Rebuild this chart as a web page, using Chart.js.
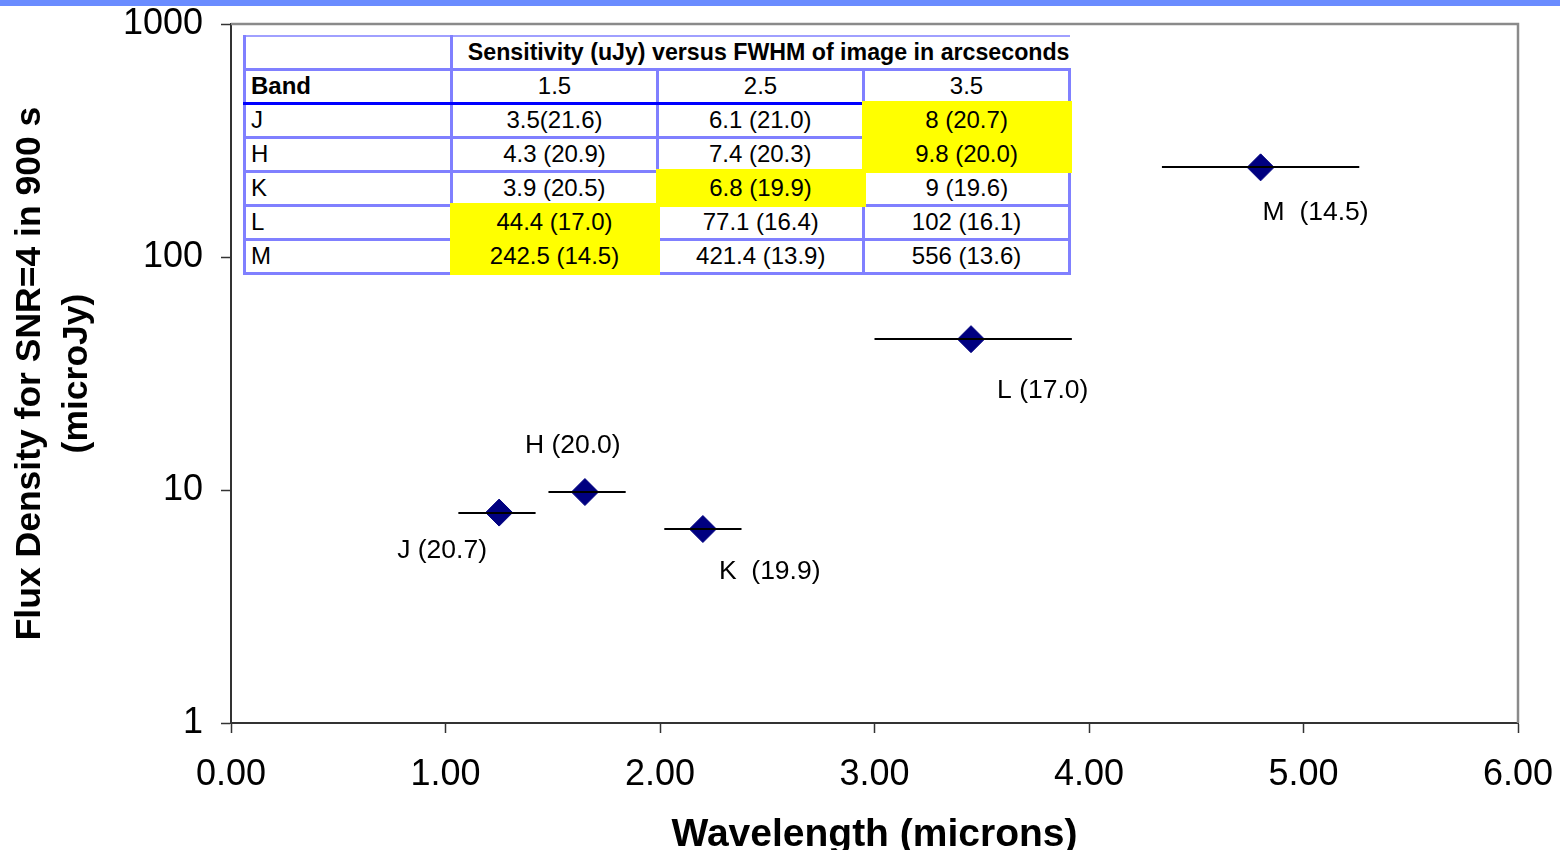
<!DOCTYPE html>
<html>
<head>
<meta charset="utf-8">
<title>Sensitivity versus wavelength</title>
<script src="https://cdn.jsdelivr.net/npm/chart.js@4.4.1/dist/chart.umd.min.js"></script>
<style>
  html, body { margin: 0; padding: 0; background: #fff; }
  #wrap { position: relative; width: 1560px; height: 850px; overflow: hidden; background: #fff; }
  #topbar { position: absolute; left: 0; top: 0; width: 1560px; height: 6px; background: #6a8cff; }
  #chart { position: absolute; left: 0; top: 0; }
  #sens {
    position: absolute; left: 243px; top: 35px; width: 825px;
    border-collapse: collapse; table-layout: fixed; background: #fff;
    font-family: "Liberation Sans", Arial, sans-serif; font-size: 24px; color: #000;
  }
  #sens td {
    border: 3px solid #8080ff; padding: 0; text-align: center;
    white-space: nowrap; overflow: visible; line-height: 26px;
  }
  #sens tr { height: 34px; }
  #sens tr.first { height: 33px; }
  #sens tr.first td { border-top: 2px solid #a0a0ff; }
  #sens td.band { text-align: left; padding-left: 5px; }
  #sens td.bold { font-weight: bold; }
  #sens td.title { border-right: none; font-size: 23.2px; text-align: right; }
  #sens tr.head td { border-bottom: 3px solid #0000ff; }
  #sens td.pick { background: #ffff00; border: 4px solid #ffff00; }
</style>
</head>
<body>
<div id="wrap">
  <div id="topbar"></div>
  <canvas id="chart" width="1560" height="850"></canvas>
  <table id="sens"></table>
</div>
<script>
// Photometric bands, their central wavelengths (microns) and band edges
const bands = ['J', 'H', 'K', 'L', 'M'];
const wavelength = [1.25, 1.65, 2.20, 3.45, 4.80];
const bandLow  = [1.06, 1.48, 2.02, 3.00, 4.34];
const bandHigh = [1.42, 1.84, 2.38, 3.92, 5.26];

// Image FWHM columns (arcseconds)
const fwhm = ['1.5', '2.5', '3.5'];

// Sensitivity (uJy) per band for each FWHM, and the matching magnitude
const fluxJ = [3.5, 6.1, 8];       const magJ = [21.6, 21.0, 20.7];
const fluxH = [4.3, 7.4, 9.8];     const magH = [20.9, 20.3, 20.0];
const fluxK = [3.9, 6.8, 9];       const magK = [20.5, 19.9, 19.6];
const fluxL = [44.4, 77.1, 102];   const magL = [17.0, 16.4, 16.1];
const fluxM = [242.5, 421.4, 556]; const magM = [14.5, 13.9, 13.6];

// FWHM column adopted for each band (highlighted cells, plotted points)
const adopted = [2, 2, 1, 0, 0];

// Axis tick values
const xTicks = [0, 1, 2, 3, 4, 5, 6];
const yTicks = [1, 10, 100, 1000];

const fluxTable = [fluxJ, fluxH, fluxK, fluxL, fluxM];
const magTable = [magJ, magH, magK, magL, magM];
const plotFlux = bands.map((b, i) => fluxTable[i][adopted[i]]);
const plotMag = bands.map((b, i) => magTable[i][adopted[i]]);

// ---- sensitivity table ----
(function buildTable() {
  const t = document.getElementById('sens');
  let html = '<colgroup><col style="width:207px"><col style="width:206px"><col style="width:206px"><col style="width:206px"></colgroup>';
  html += '<tr class="first"><td></td><td class="bold title" colspan="3">Sensitivity (uJy) versus FWHM of image in arcseconds</td></tr>';
  html += '<tr class="head"><td class="band bold">Band</td>' + fwhm.map(f => '<td>' + f + '</td>').join('') + '</tr>';
  bands.forEach((b, i) => {
    html += '<tr><td class="band">' + b + '</td>';
    fluxTable[i].forEach((f, j) => {
      const sep = (i === 0 && j === 0) ? '' : ' ';
      const cls = adopted[i] === j ? ' class="pick"' : '';
      html += '<td' + cls + '>' + f + sep + '(' + magTable[i][j].toFixed(1) + ')</td>';
    });
    html += '</tr>';
  });
  t.innerHTML = html;
})();

// ---- chart ----
const FONT = '"Liberation Sans", Arial, sans-serif';

// Gray frame on the top and right of the plot area
const framePlugin = {
  id: 'frame',
  beforeDatasetsDraw(chart) {
    const { ctx, chartArea: a } = chart;
    ctx.save();
    ctx.strokeStyle = '#8a8a8a';
    ctx.lineWidth = 2.5;
    ctx.beginPath();
    ctx.moveTo(a.left, a.top);
    ctx.lineTo(a.right, a.top);
    ctx.lineTo(a.right, a.bottom);
    ctx.stroke();
    ctx.restore();
  }
};

// Horizontal bars showing each band's wavelength coverage
const bandBarPlugin = {
  id: 'bandBars',
  afterDatasetsDraw(chart) {
    const { ctx, scales: { x, y } } = chart;
    ctx.save();
    ctx.strokeStyle = '#000';
    ctx.lineWidth = 2;
    bands.forEach((b, i) => {
      const py = Math.round(y.getPixelForValue(plotFlux[i]));
      ctx.beginPath();
      ctx.moveTo(x.getPixelForValue(bandLow[i]), py);
      ctx.lineTo(x.getPixelForValue(bandHigh[i]), py);
      ctx.stroke();
    });
    ctx.restore();
  }
};

// Band name and magnitude next to each point
const labelOffsets = [[-102, 38], [-60, -46], [16, 43], [26, 52], [2, 45]];
const labelGaps = [' ', ' ', '  ', ' ', '  '];
const bandLabelPlugin = {
  id: 'bandLabels',
  afterDatasetsDraw(chart) {
    const { ctx } = chart;
    const meta = chart.getDatasetMeta(0);
    ctx.save();
    ctx.font = '26.5px ' + FONT;
    ctx.fillStyle = '#000';
    ctx.textAlign = 'left';
    ctx.textBaseline = 'middle';
    meta.data.forEach((pt, i) => {
      const txt = bands[i] + labelGaps[i] + '(' + plotMag[i].toFixed(1) + ')';
      ctx.fillText(txt, pt.x + labelOffsets[i][0], pt.y + labelOffsets[i][1]);
    });
    ctx.restore();
  }
};

new Chart(document.getElementById('chart'), {
  type: 'scatter',
  data: {
    datasets: [{
      data: bands.map((b, i) => ({ x: wavelength[i], y: plotFlux[i] })),
      pointStyle: 'rectRot',
      pointRadius: 13.5,
      pointHoverRadius: 13.5,
      backgroundColor: '#000080',
      borderColor: '#000080',
      borderWidth: 1
    }]
  },
  options: {
    responsive: false,
    animation: false,
    devicePixelRatio: 1,
    events: [],
    layout: { padding: { top: 24, right: 42, left: 0, bottom: 0 } },
    plugins: { legend: { display: false }, tooltip: { enabled: false } },
    scales: {
      x: {
        type: 'linear',
        min: 0, max: 6,
        afterBuildTicks: s => { s.ticks = xTicks.map(v => ({ value: v })); },
        afterFit: s => { s.height = 127; s.paddingLeft = 0; s.paddingRight = 0; },
        ticks: {
          color: '#000',
          padding: 20,
          maxRotation: 0,
          font: { family: FONT, size: 36 },
          callback: v => Number(v).toFixed(2)
        },
        grid: { drawOnChartArea: false, drawTicks: true, tickLength: 10, tickColor: '#333', tickWidth: 1.5 },
        border: { color: '#333', width: 2 },
        title: {
          display: true,
          text: 'Wavelength (microns)',
          color: '#000',
          font: { family: FONT, size: 39, weight: 'bold', lineHeight: '30px' },
          padding: { top: 0, bottom: 0 }
        }
      },
      y: {
        type: 'logarithmic',
        min: 1, max: 1000,
        afterBuildTicks: s => { s.ticks = yTicks.map(v => ({ value: v })); },
        afterFit: s => { s.width = 231; s.paddingTop = 0; s.paddingBottom = 0; },
        ticks: {
          color: '#000',
          padding: 18,
          font: { family: FONT, size: 36 },
          callback: v => String(v)
        },
        grid: { drawOnChartArea: false, drawTicks: true, tickLength: 10, tickColor: '#333', tickWidth: 1.5 },
        border: { color: '#333', width: 2 },
        title: {
          display: true,
          text: ['Flux Density for SNR=4 in 900 s', '(microJy)'],
          color: '#000',
          font: { family: FONT, size: 35.5, weight: 'bold', lineHeight: '47px' },
          padding: { top: 7, bottom: 0 }
        }
      }
    }
  },
  plugins: [framePlugin, bandBarPlugin, bandLabelPlugin]
});
</script>
</body>
</html>
